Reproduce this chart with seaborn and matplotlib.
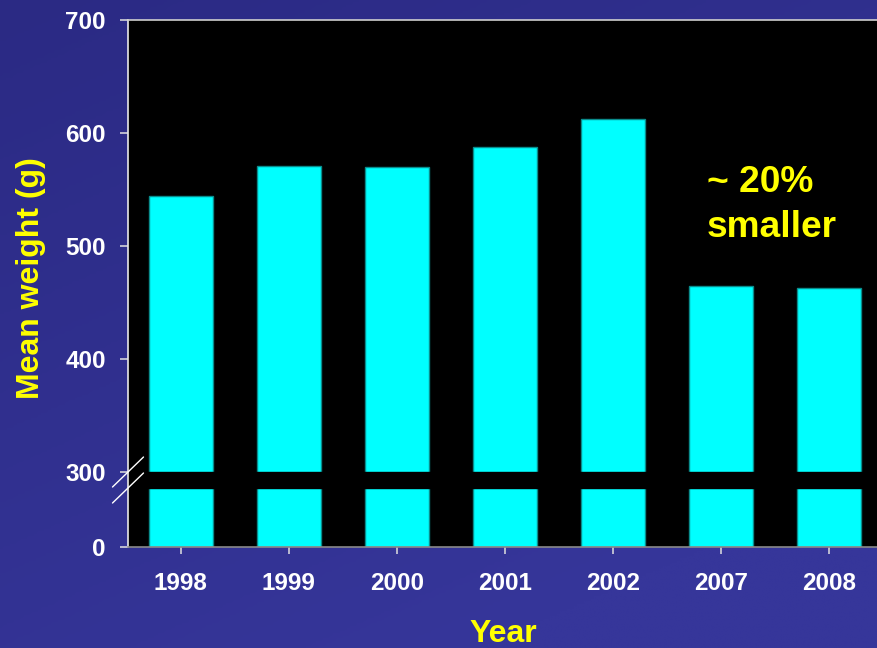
import numpy as np
import pandas as pd
import matplotlib
matplotlib.use("Agg")
import matplotlib.pyplot as plt
from matplotlib.colors import LinearSegmentedColormap
import seaborn as sns

# Mean weight per sampling year
years = ["1998", "1999", "2000", "2001", "2002", "2007", "2008"]
mean_weight = [544, 571, 570, 588, 612, 465, 463]
y_ticks = [0, 300, 400, 500, 600, 700]

BREAK = 300        # axis is broken below this value
LOWER_FRAC = 0.2212  # compression of the 0-300 segment
GAP_LO = 236       # lower end of the black gap band

def fwd(v):
    v = np.asarray(v, dtype=float)
    return np.where(v >= BREAK, v, BREAK - (BREAK - v) * LOWER_FRAC)

def inv(u):
    u = np.asarray(u, dtype=float)
    return np.where(u >= BREAK, u, BREAK - (BREAK - u) / LOWER_FRAC)

sns.set_theme(style="white")
plt.rcParams["font.family"] = ["Liberation Sans", "DejaVu Sans"]
plt.rcParams["font.weight"] = "bold"

fig = plt.figure(figsize=(8.77, 6.48), dpi=100)

# blue gradient background, darker towards the top left
bg = fig.add_axes([0, 0, 1, 1], zorder=-10)
cmap = LinearSegmentedColormap.from_list("bg", ["#2b2a84", "#36369a"])
gx = np.linspace(0, 1, 256)[None, :]
gy = np.linspace(0, 1, 256)[:, None]
grad = 0.45 * gx + 0.75 * gy
bg.imshow(grad, cmap=cmap, aspect="auto", extent=[0, 1, 0, 1],
          origin="upper", vmin=0, vmax=1.0)
bg.set_axis_off()

ax = fig.add_axes([128 / 877, 101 / 648, 756 / 877, 527 / 648])
ax.set_facecolor("black")

df = pd.DataFrame({"Year": years, "Mean weight": mean_weight})
sns.barplot(data=df, x="Year", y="Mean weight", color="#00ffff",
            saturation=1, width=0.59, edgecolor="#0a8c8c", linewidth=1, ax=ax)

ax.set_yscale("function", functions=(fwd, inv))
ax.set_ylim(0, 700)
ax.set_xlim(-0.49, 6.51)
ax.set_yticks(y_ticks)
ax.set_yticklabels([str(t) for t in y_ticks])

# black band marking the axis break
ax.axhspan(GAP_LO, BREAK, color="black", zorder=2)

for side, col in [("left", "#e8e8e8"), ("top", "#cfcfcf"), ("bottom", "#8a8a8a"), ("right", "#cfcfcf")]:
    ax.spines[side].set_color(col)
    ax.spines[side].set_linewidth(1.2)
    ax.spines[side].set_visible(True)

ax.tick_params(axis="y", which="both", left=True, length=6, width=1.1,
               color="#e0e0e0", pad=10, labelsize=17.5, labelcolor="white")
ax.tick_params(axis="x", which="both", bottom=True, length=5, width=1.1,
               color="#e0e0e0", pad=13, labelsize=17.5, labelcolor="white")
for lab in ax.get_xticklabels() + ax.get_yticklabels():
    lab.set_fontweight("bold")

ax.set_xlabel("Year", color="#ffff00", fontsize=23, fontweight="bold")
ax.set_ylabel("Mean weight (g)", color="#ffff00", fontsize=23, fontweight="bold")
ax.xaxis.set_label_coords(0.497, -0.137)
ax.yaxis.set_label_coords(-0.108, 0.51)

# slashes marking the break on the value axis
fig.canvas.draw()
to_axes = ax.transAxes.inverted()
for v in (BREAK, GAP_LO):
    ya = to_axes.transform(ax.transData.transform((0, v)))[1]
    dx, dy = 15.5 / 756, 15 / 527
    ax.plot([-dx, dx], [ya - dy, ya + dy], transform=ax.transAxes,
            color="white", lw=1.0, clip_on=False, zorder=5)

ax.text(4.87, 0.724, "~ 20%\nsmaller", transform=ax.get_xaxis_transform(),
        color="#ffff00", fontsize=26.7, fontweight="bold",
        ha="left", va="top", linespacing=1.36)

fig.savefig("out.png", dpi=100, facecolor=fig.get_facecolor())
